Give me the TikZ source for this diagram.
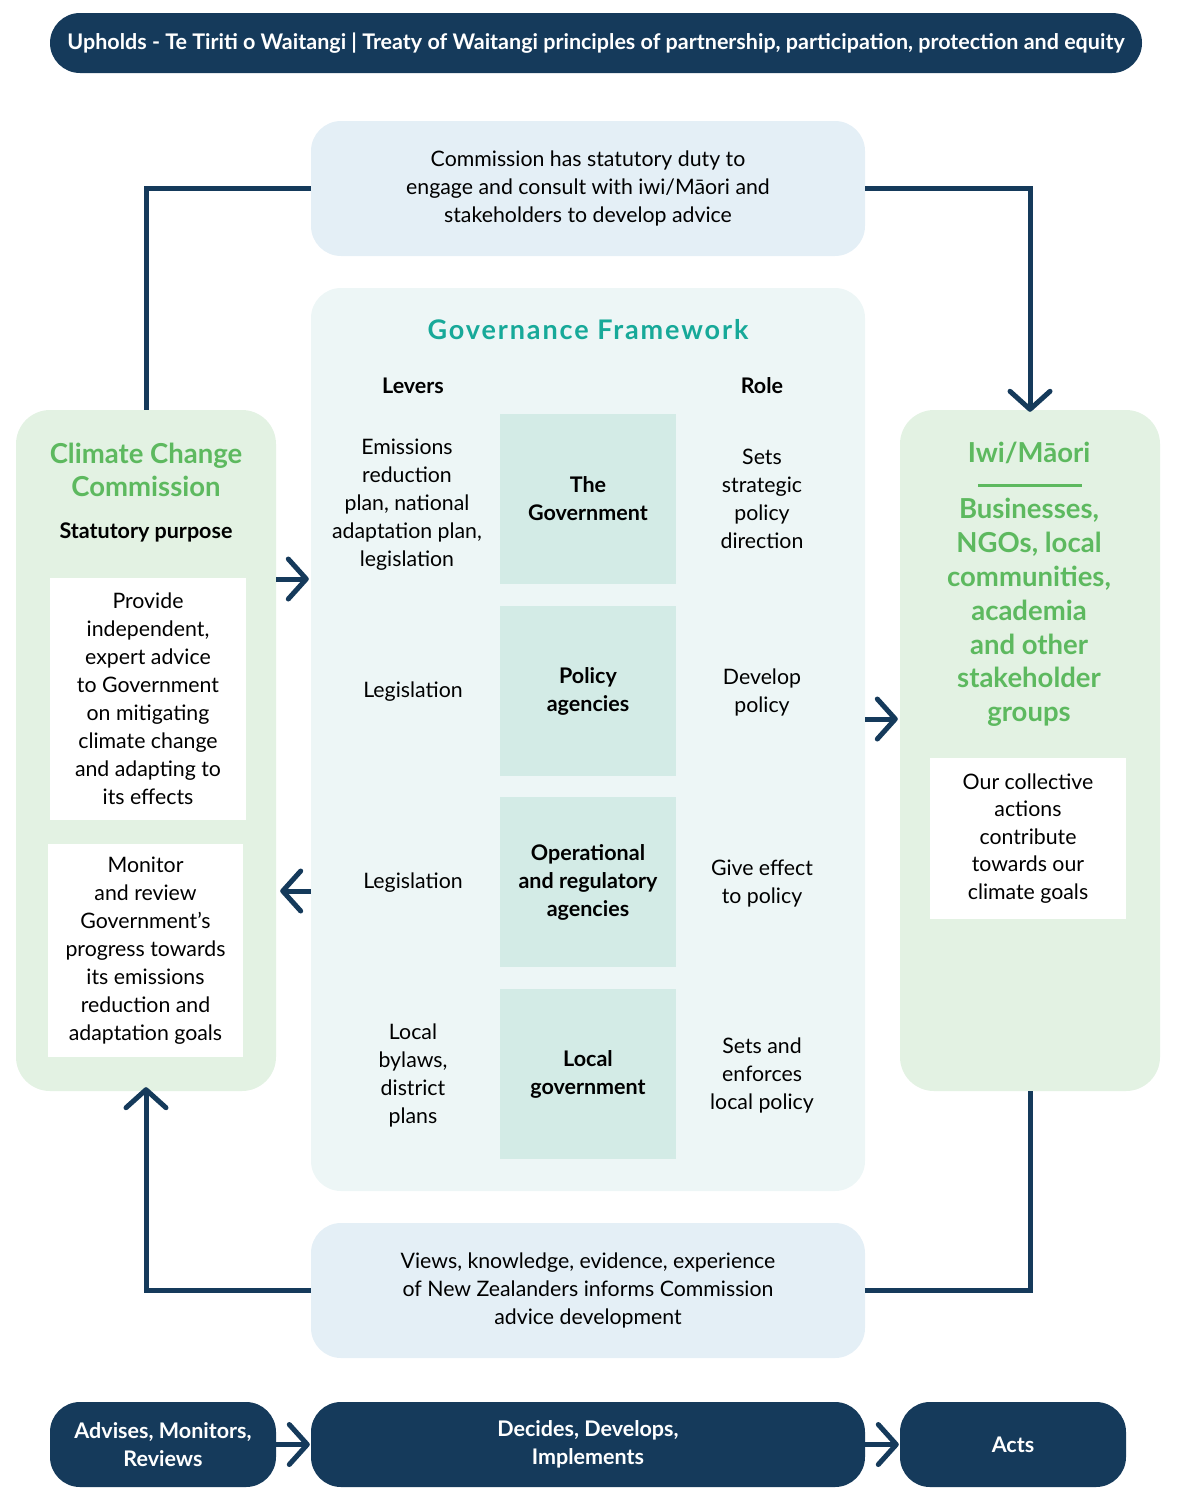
\documentclass[tikz,border=0pt]{standalone}
\usepackage{fontspec}
\setmainfont{Lato}
\usetikzlibrary{arrows.meta}
\definecolor{navy}{HTML}{153A5B}
\definecolor{paleblue}{HTML}{E4EFF6}
\definecolor{govbg}{HTML}{EDF6F6}
\definecolor{cellbg}{HTML}{D3EBE6}
\definecolor{greenbg}{HTML}{E3F2E3}
\definecolor{greentxt}{HTML}{5DB95F}
\definecolor{teal}{HTML}{17A999}
\tikzset{
  pill/.style={fill=navy, draw=none, rounded corners=30pt, text=white, font=\bfseries\fontsize{21.5}{28}\selectfont, align=center, inner sep=0pt},
  panel/.style={fill=paleblue, draw=none, rounded corners=30pt, inner sep=0pt},
  gbox/.style={fill=greenbg, draw=none, rounded corners=34pt, inner sep=0pt},
  wbox/.style={fill=white, draw=none, inner sep=0pt},
  cell/.style={fill=cellbg, draw=none, inner sep=0pt, minimum width=176pt, minimum height=170pt, font=\bfseries\fontsize{21.5}{28}\selectfont, align=center},
  body/.style={font=\fontsize{21.3}{28}\selectfont, align=center, inner sep=0pt},
  head/.style={font=\bfseries\fontsize{21.5}{28}\selectfont, align=center, inner sep=0pt},
  gtitle/.style={font=\bfseries\fontsize{27.5}{33}\selectfont, text=greentxt, align=center, inner sep=0pt},
  conn/.style={draw=navy, line width=5pt},
  chev/.style={-{Straight Barb[length=18pt,width=40pt,line cap=round,line join=round]}},
}
\begin{document}
\begin{tikzpicture}[x=1pt,y=-1pt]
\useasboundingbox (0,0) rectangle (1184,1502);
% banner
\node[pill, minimum width=1092pt, minimum height=60pt] (banner) at (596,43)
  {Upholds - Te Tiriti o Waitangi | Treaty of Waitangi principles of partnership, participation, protection and equity};
% top / bottom panels
\node[panel, minimum width=554pt, minimum height=135pt] (top) at (588,188.5) {};
\node[body] at (top) {Commission has statutory duty to\\engage and consult with iwi/Māori and\\stakeholders to develop advice};
\node[panel, minimum width=554pt, minimum height=135pt] (bot) at (588,1290.5) {};
\node[body] at (bot) {Views, knowledge, evidence, experience\\of New Zealanders informs Commission\\advice development};
% governance
\node[fill=govbg, draw=none, rounded corners=30pt, minimum width=554pt, minimum height=903pt, inner sep=0pt] (gov) at (588,739.5) {};
\node[font=\bfseries\fontsize{27}{30}\selectfont\addfontfeatures{LetterSpace=7}, text=teal, inner sep=0pt] (govt) at (588,330) {Governance Framework};
\node[head] (levers) at (413,386) {Levers};
\node[head] (role) at (762,386) {Role};
\node[cell] (c1) at (588,499) {The\\Government};
\node[cell] (c2) at (588,691) {Policy\\agencies};
\node[cell] (c3) at (588,882) {Operational\\and regulatory\\agencies};
\node[cell] (c4) at (588,1074) {Local\\government};
\node[body] (l1) at (407,505) {Emissions\\reduction\\plan, national\\adaptation plan,\\legislation};
\node[body] (l2) at (413,692) {Legislation};
\node[body] (l3) at (413,883) {Legislation};
\node[body] (l4) at (413,1075) {Local\\bylaws,\\district\\plans};
\node[body] (r1) at (762,499) {Sets\\strategic\\policy\\direction};
\node[body] (r2) at (762,692) {Develop\\policy};
\node[body] (r3) at (762,884) {Give effect\\to policy};
\node[body] (r4) at (762,1075) {Sets and\\enforces\\local policy};
% left box
\node[gbox, minimum width=260pt, minimum height=681pt] (ccc) at (146,750.5) {};
\node[gtitle] (ccct) at (146,470) {Climate Change\\Commission};
\node[head] (sp) at (146,532) {Statutory purpose};
\node[wbox, minimum width=196pt, minimum height=242pt] (w1) at (148,699) {};
\node[body] at (w1) {Provide\\independent,\\expert advice\\to Government\\on mitigating\\climate change\\and adapting to\\its effects};
\node[wbox, minimum width=195pt, minimum height=213pt] (w2) at (145.5,950.5) {};
\node[body] at (w2) {Monitor\\and review\\Government’s\\progress towards\\its emissions\\reduction and\\adaptation goals};
% right box
\node[gbox, minimum width=260pt, minimum height=681pt] (iwi) at (1030,750.5) {};
\node[gtitle] (iwit) at (1029,453) {Iwi/Māori};
\draw[greentxt, line width=3pt] (978,485) -- (1082,485);
\node[gtitle, font=\bfseries\fontsize{27.5}{33.8}\selectfont] (iwig) at (1029,612.5) {Businesses,\\NGOs, local\\communities,\\academia\\and other\\stakeholder\\groups};
\node[wbox, minimum width=196pt, minimum height=161pt] (w3) at (1028,838.5) {};
\node[body, font=\fontsize{21.3}{27.5}\selectfont] at (w3) {Our collective\\actions\\contribute\\towards our\\climate goals};
% bottom pills
\node[pill, minimum width=226pt, minimum height=85pt] (p1) at (163,1444.5) {Advises, Monitors,\\Reviews};
\node[pill, minimum width=554pt, minimum height=85pt] (p2) at (588,1444.5) {Decides, Develops,\\Implements};
\node[pill, minimum width=226pt, minimum height=85pt] (p3) at (1013,1444.5) {Acts};
% connectors
\draw[conn] (top.west) -| (ccc.north);
\draw[conn, chev] (top.east) -| ([yshift=-2pt]iwi.north);
\draw[conn] (iwi.south) |- (bot.east);
\draw[conn, chev] (bot.west) -| ([yshift=4pt]ccc.south);
\coordinate (a1) at (0,579);
\coordinate (a2) at (0,719);
\coordinate (a3) at (0,891);
\draw[conn, chev] (ccc.east |- a1) -- ([xshift=-2pt]gov.west |- a1);
\draw[conn, chev] (gov.east |- a2) -- ([xshift=-2pt]iwi.west |- a2);
\draw[conn, chev] (gov.west |- a3) -- ([xshift=4pt]ccc.east |- a3);
\draw[conn, chev] (p1.east) -- ([xshift=-1pt]p2.west);
\draw[conn, chev] (p2.east) -- ([xshift=-1pt]p3.west);
\end{tikzpicture}
\end{document}
